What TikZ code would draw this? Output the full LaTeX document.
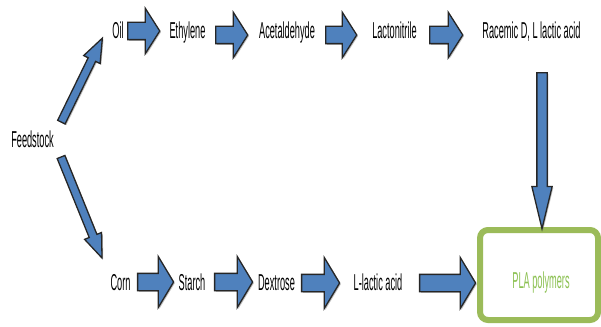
\documentclass[tikz,border=0pt]{standalone}
\usepackage{fontspec}
\setmainfont{Liberation Sans}[FakeStretch=0.40]
\usetikzlibrary{shapes.arrows,calc,shadows}
\definecolor{arrowblue}{HTML}{4F81BD}
\definecolor{boxolive}{HTML}{9BBB59}
\definecolor{plagreen}{HTML}{8CC152}
\tikzset{
  lbl/.style={anchor=base, inner sep=0pt, font=\fontsize{23}{27}\selectfont},
  barrow/.style={single arrow, fill=arrowblue, draw=black!85, line width=1.3pt,
    inner xsep=0pt, drop shadow={shadow xshift=1.2pt, shadow yshift=-1.2pt, opacity=0.5}},
  toparrow/.style={barrow, inner ysep=8pt, single arrow head extend=14pt, single arrow tip angle=115},
  botarrow/.style={barrow, inner ysep=8pt, single arrow head extend=17pt, single arrow tip angle=118},
  diagarrow/.style={barrow, inner ysep=3.5pt, single arrow head extend=5pt, single arrow tip angle=42},
  vertarrow/.style={barrow, inner ysep=4.5pt, single arrow head extend=5pt, single arrow tip angle=27},
  plabox/.style={draw=boxolive, line width=6pt, rounded corners=8pt, fill=white,
    minimum width=118pt, minimum height=90pt, inner sep=0pt}
}
\newcommand\blockarrow[3]{%
  \path let \p1=(#2), \p2=(#3),
    \n1={atan2(\y2-\y1,\x2-\x1)}, \n2={veclen(\x2-\x1,\y2-\y1)} in
    node[#1, rotate=\n1, minimum height=\n2] at ($(#2)!0.5!(#3)$) {};}
\begin{document}
\begin{tikzpicture}[x=1pt,y=-1pt]
\useasboundingbox (0,0) rectangle (601,326);
% text nodes
\node[lbl] (feed) at (32.5,147) {Feedstock};
\node[lbl] (oil) at (118,39) {Oil};
\node[lbl] (eth) at (187.5,39) {Ethylene};
\node[lbl] (acet) at (287,39) {Acetaldehyde};
\node[lbl] (lacto) at (394.5,39) {Lactonitrile};
\node[lbl] (race) at (531.5,39) {Racemic D, L lactic acid};
\node[lbl] (corn) at (120.5,290) {Corn};
\node[lbl] (starch) at (192,290) {Starch};
\node[lbl] (dex) at (276.5,290) {Dextrose};
\node[lbl] (llac) at (378,290) {L-lactic acid};
\node[plabox] (box) at (539,275) {};
\node[lbl, text=plagreen] (pla) at (541,288) {PLA polymers};
% connector end points
\coordinate (d1s) at (59,127);  \coordinate (d1e) at (100,43);
\coordinate (d2s) at (59,152);  \coordinate (d2e) at (100,253);
\coordinate (a1s) at (125,31);  \coordinate (a1e) at (157,31);
\coordinate (a2s) at (213,35);  \coordinate (a2e) at (245,35);
\coordinate (a3s) at (323,35);  \coordinate (a3e) at (354,35);
\coordinate (a4s) at (427,35);  \coordinate (a4e) at (460,35);
\coordinate (vs) at (542,62);   \coordinate (ve) at (542,218);
\coordinate (b1s) at (135,282); \coordinate (b1e) at (171,282);
\coordinate (b2s) at (212,282); \coordinate (b2e) at (250,282);
\coordinate (b3s) at (299,283); \coordinate (b3e) at (337,283);
\coordinate (b4s) at (417,283); \coordinate (b4e) at (473,283);
% connectors
\blockarrow{diagarrow}{d1s}{d1e}
\blockarrow{diagarrow}{d2s}{d2e}
\blockarrow{toparrow}{a1s}{a1e}
\blockarrow{toparrow}{a2s}{a2e}
\blockarrow{toparrow}{a3s}{a3e}
\blockarrow{toparrow}{a4s}{a4e}
\blockarrow{vertarrow}{vs}{ve}
\blockarrow{botarrow}{b1s}{b1e}
\blockarrow{botarrow}{b2s}{b2e}
\blockarrow{botarrow}{b3s}{b3e}
\blockarrow{botarrow}{b4s}{b4e}
\end{tikzpicture}
\end{document}
